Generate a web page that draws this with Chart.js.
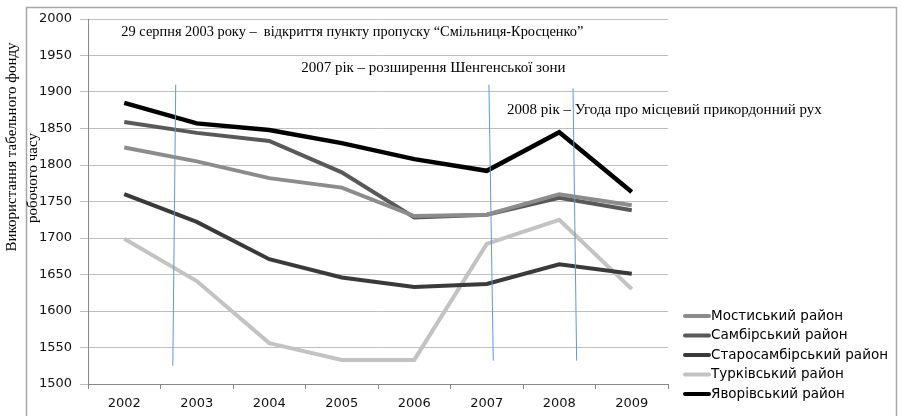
<!DOCTYPE html>
<html>
<head>
<meta charset="utf-8">
<script src="https://cdn.jsdelivr.net/npm/chart.js@4"></script>
<style>
html,body{margin:0;padding:0;background:#fff;}
#wrap{width:902px;height:416px;position:relative;}
</style>
</head>
<body>
<div id="wrap"><canvas id="c" width="902" height="416"></canvas></div>
<script>
const years = ['2002','2003','2004','2005','2006','2007','2008','2009'];
const mostyskyi = [1824, 1805, 1782, 1769, 1730, 1732, 1760, 1745];
const sambirskyi = [1859, 1844, 1833, 1790, 1728, 1732, 1755, 1738];
const starosambirskyi = [1760, 1722, 1671, 1646, 1633, 1637, 1664, 1651];
const turkivskyi = [1699, 1641, 1556, 1533, 1533, 1692, 1725, 1630];
const yavorivskyi = [1885, 1857, 1848, 1830, 1808, 1792, 1845, 1763];
const yTicks = [1500, 1550, 1600, 1650, 1700, 1750, 1800, 1850, 1900, 1950, 2000];
const seriesNames = ['Мостиський район','Самбірський район','Старосамбірський район','Турківський район','Яворівський район'];
const yTitle = ['Використання табельного фонду', 'робочого часу'];
// annotations: [text, category index, value, font size]
const notes = [
  ['29 серпня 2003 року –  відкриття пункту пропуску “Смільниця-Кросценко”', -0.04, 1982, 14.4],
  ['2007 рік – розширення Шенгенської зони', 2.44, 1933, 15],
  ['2008 рік – Угода про місцевий прикордонний рух', 5.28, 1875, 15]
];
// event markers: [index top, value top, index bottom, value bottom]
const markers = [
  [0.71, 1910, 0.67, 1525],
  [5.03, 1910, 5.09, 1532],
  [6.19, 1905, 6.24, 1532]
];

const colors = ['#8c8c8c', '#595959', '#3a3a3a', '#c3c3c3', '#000000'];
const allData = [mostyskyi, sambirskyi, starosambirskyi, turkivskyi, yavorivskyi];

const overlay = {
  id: 'overlay',
  beforeDraw(chart) {
    const ctx = chart.ctx;
    ctx.save();
    ctx.fillStyle = '#fff';
    ctx.fillRect(0, 0, chart.width, chart.height);
    ctx.strokeStyle = '#a6a6a6';
    ctx.lineWidth = 1.5;
    ctx.strokeRect(26.5, 7.5, 870, 430);
    ctx.restore();
  },
  afterDatasetsDraw(chart) {
    const ctx = chart.ctx;
    const xs = chart.scales.x, ys = chart.scales.y;
    ctx.save();
    ctx.strokeStyle = '#5b9bd5';
    ctx.lineWidth = 1;
    markers.forEach(m => {
      ctx.beginPath();
      ctx.moveTo(xs.getPixelForValue(m[0]), ys.getPixelForValue(m[1]));
      ctx.lineTo(xs.getPixelForValue(m[2]), ys.getPixelForValue(m[3]));
      ctx.stroke();
    });
    ctx.fillStyle = '#000';
    ctx.textBaseline = 'middle';
    ctx.textAlign = 'left';
    notes.forEach(n => {
      ctx.font = n[3] + 'px "Liberation Serif", "Times New Roman", serif';
      ctx.fillText(n[0], xs.getPixelForValue(n[1]), ys.getPixelForValue(n[2]));
    });
    // y axis title
    ctx.font = '15px "Liberation Serif", "Times New Roman", serif';
    ctx.textAlign = 'center';
    ctx.save();
    ctx.translate(12, 147);
    ctx.rotate(-Math.PI / 2);
    ctx.fillText(yTitle[0], 0, 0);
    ctx.restore();
    ctx.save();
    ctx.translate(33, 178);
    ctx.rotate(-Math.PI / 2);
    ctx.fillText(yTitle[1], 0, 0);
    ctx.restore();
    // legend
    const ds = chart.data.datasets;
    ctx.font = '13.5px "DejaVu Sans", sans-serif';
    ctx.textAlign = 'left';
    ds.forEach((d, i) => {
      const y = 316 + i * 19.5;
      ctx.strokeStyle = d.borderColor;
      ctx.lineWidth = 4;
      ctx.lineCap = 'round';
      ctx.beginPath();
      ctx.moveTo(685, y);
      ctx.lineTo(709, y);
      ctx.stroke();
      ctx.fillStyle = '#000';
      ctx.fillText(d.label, 711, y);
    });
    ctx.restore();
  }
};

new Chart(document.getElementById('c'), {
  type: 'line',
  data: {
    labels: years,
    datasets: allData.map((d, i) => ({
      label: seriesNames[i],
      data: d,
      borderColor: colors[i],
      backgroundColor: colors[i],
      borderWidth: i === 4 ? 4.5 : 4,
      pointRadius: 0,
      tension: 0,
      fill: false
    }))
  },
  options: {
    responsive: false,
    animation: false,
    layout: { padding: { left: 0, top: 19, right: 234, bottom: 8 } },
    plugins: {
      legend: { display: false },
      tooltip: { enabled: false }
    },
    scales: {
      x: {
        offset: true,
        grid: { offset: true, drawOnChartArea: false, drawTicks: true, tickLength: 5, color: '#888' },
        border: { color: '#888' },
        ticks: { color: '#111', padding: 7, font: { family: '"DejaVu Sans", sans-serif', size: 13 } },
        afterFit(s) { s.height = 24; }
      },
      y: {
        min: 1500, max: 2000,
        afterBuildTicks(s) { s.ticks = yTicks.map(v => ({ value: v })); },
        grid: { color: '#bfbfbf', tickLength: 8 },
        border: { color: '#888' },
        ticks: {
          color: '#111', padding: 8,
          font: { family: '"DejaVu Sans", sans-serif', size: 13 },
          callback: v => String(v)
        },
        afterFit(s) { s.width = 88; }
      }
    }
  },
  plugins: [overlay]
});
</script>
</body>
</html>
